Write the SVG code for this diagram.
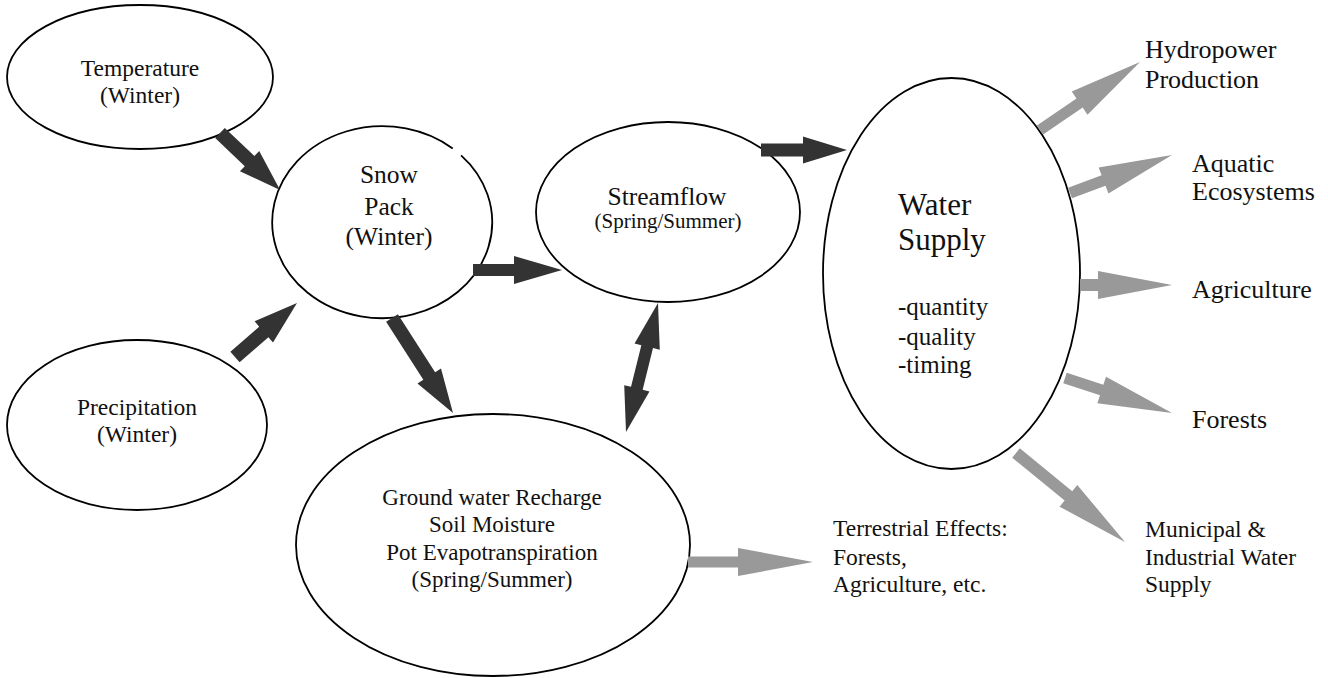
<svg xmlns="http://www.w3.org/2000/svg" width="1328" height="678" viewBox="0 0 1328 678">
  <style>
    .node { fill: #ffffff; stroke: #000000; stroke-width: 1.8; }
    text { font-family: "Liberation Serif", "Times New Roman", serif; fill: #111111; }
    .c { text-anchor: middle; }
    .dark { fill: #333333; }
    .gray { fill: #999999; }
  </style>
  <rect width="1328" height="678" fill="#ffffff"/>

  <!-- Drivers -->
  <g id="temperature">
    <ellipse class="node" cx="140" cy="77" rx="133" ry="72"/>
    <text class="c" x="140" y="76" font-size="23.5">Temperature</text>
    <text class="c" x="140" y="103" font-size="23.5">(Winter)</text>
  </g>
  <g id="precipitation">
    <ellipse class="node" cx="137" cy="425" rx="130" ry="85"/>
    <text class="c" x="137" y="415" font-size="23.5">Precipitation</text>
    <text class="c" x="137" y="442" font-size="23.5">(Winter)</text>
  </g>

  <!-- Snow pack (outline has a small break at the upper right) -->
  <g id="snow-pack">
    <path class="node" d="M461.1,155.3 A110,96 0 1 1 452.7,148.5"/>
    <text class="c" x="389" y="183" font-size="25.5">Snow</text>
    <text class="c" x="389" y="215" font-size="25.5">Pack</text>
    <text class="c" x="389" y="245" font-size="25.5">(Winter)</text>
  </g>

  <g id="streamflow">
    <ellipse class="node" cx="668" cy="212" rx="132" ry="90"/>
    <text class="c" x="667" y="205" font-size="25.5">Streamflow</text>
    <text class="c" x="668" y="228" font-size="21">(Spring/Summer)</text>
  </g>

  <g id="ground-water">
    <ellipse class="node" cx="493" cy="545" rx="197" ry="131"/>
    <text class="c" x="492" y="505" font-size="23">Ground water Recharge</text>
    <text class="c" x="492" y="532" font-size="23">Soil Moisture</text>
    <text class="c" x="492" y="560" font-size="23">Pot Evapotranspiration</text>
    <text class="c" x="492" y="587" font-size="23">(Spring/Summer)</text>
  </g>

  <g id="water-supply">
    <ellipse class="node" cx="951.5" cy="273.5" rx="128.5" ry="195.5"/>
    <text x="898" y="215" font-size="31">Water</text>
    <text x="898" y="250" font-size="31">Supply</text>
    <text x="898" y="315" font-size="25">-quantity</text>
    <text x="898" y="345" font-size="25">-quality</text>
    <text x="898" y="373" font-size="25">-timing</text>
  </g>

  <!-- Impacts -->
  <g id="hydropower">
    <text x="1145" y="58" font-size="26">Hydropower</text>
    <text x="1145" y="88" font-size="26">Production</text>
  </g>
  <g id="aquatic">
    <text x="1192" y="172" font-size="26">Aquatic</text>
    <text x="1192" y="200" font-size="26">Ecosystems</text>
  </g>
  <g id="agriculture">
    <text x="1192" y="298" font-size="26">Agriculture</text>
  </g>
  <g id="forests">
    <text x="1192" y="428" font-size="26">Forests</text>
  </g>
  <g id="municipal">
    <text x="1145" y="537" font-size="23.5">Municipal &amp;</text>
    <text x="1145" y="565" font-size="23.5">Industrial Water</text>
    <text x="1145" y="592" font-size="23.5">Supply</text>
  </g>
  <g id="terrestrial">
    <text x="833" y="536" font-size="23.5">Terrestrial Effects:</text>
    <text x="833" y="565" font-size="23.5">Forests,</text>
    <text x="833" y="592" font-size="23.5">Agriculture, etc.</text>
  </g>

  <!-- Block arrows -->
  <g id="connectors">
    <path class="dark" transform="translate(220,133) rotate(43.5)" d="M0,-7 H40.8 V-14 L82.8,0 L40.8,14 V7 H0 Z"/>
    <path class="dark" transform="translate(235,357) rotate(-41.05)" d="M0,-7 H38.2 V-14 L82.2,0 L38.2,14 V7 H0 Z"/>
    <path class="dark" d="M473,264 H514 V256 L562,270 L514,284 V276 H473 Z"/>
    <path class="dark" transform="translate(392,318) rotate(57.3)" d="M0,-7 H68.9 V-14 L112.9,0 L68.9,14 V7 H0 Z"/>
    <path class="dark" d="M761,143.5 H803 V136.5 L847,150 L803,163.5 V156.5 H761 Z"/>
    <path class="dark" transform="translate(658,303) rotate(103.93)" d="M0,0 L45,-13 V-6 H87.9 V-13 L132.9,0 L87.9,13 V6 H45 V13 Z"/>

    <path class="gray" transform="translate(1040,130) rotate(-34.22)" d="M0,-5.5 H47.9 V-14 L120.9,0 L47.9,14 V5.5 H0 Z"/>
    <path class="gray" transform="translate(1070,193) rotate(-20.43)" d="M0,-5.5 H35.8 V-14 L108.8,0 L35.8,14 V5.5 H0 Z"/>
    <path class="gray" d="M1080,279 H1098 V271 L1172,285 L1098,299 V291 H1080 Z"/>
    <path class="gray" transform="translate(1065,378) rotate(18.11)" d="M0,-5.5 H38.6 V-14 L112.6,0 L38.6,14 V5.5 H0 Z"/>
    <path class="gray" transform="translate(1016,453) rotate(39.23)" d="M0,-6 H67.7 V-14 L140.7,0 L67.7,14 V6 H0 Z"/>
    <path class="gray" d="M688,556.5 H738 V548 L813,562 L738,576 V567.5 H688 Z"/>
  </g>
</svg>
